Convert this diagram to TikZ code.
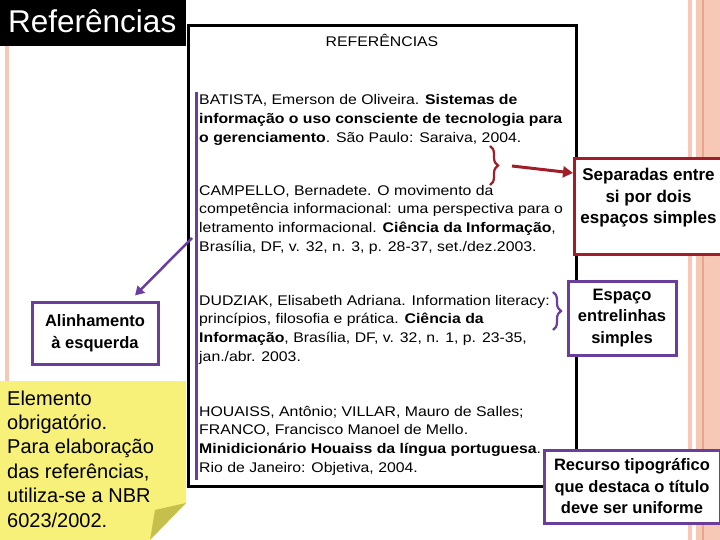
\documentclass[tikz,border=0pt]{standalone}
\usepackage{fontspec}
\setmainfont{Liberation Sans}
\newfontfamily\reffont{Liberation Sans}[FakeStretch=1.13]
\usetikzlibrary{arrows.meta,decorations.pathreplacing}

\definecolor{peach}{HTML}{F8C8B6}
\definecolor{peachdark}{HTML}{E8A68C}
\definecolor{bracered}{HTML}{A11E28}
\definecolor{tippurple}{HTML}{6A3F9C}
\definecolor{noteyellow}{HTML}{F7F17A}
\definecolor{notefold}{HTML}{C5BF4C}

\begin{document}
\begin{tikzpicture}[x=1pt,y=-1pt,
  reftext/.style={anchor=base west, align=left, inner sep=0pt,
    font=\reffont\fontsize{14}{18.9}\selectfont},
  tipbox/.style={draw=tippurple, line width=3pt, fill=white, align=center,
    inner sep=0pt, font=\fontsize{16.5}{21.5}\selectfont\bfseries},
  sepbox/.style={draw=bracered, line width=3pt, fill=white, align=center,
    font=\fontsize{17}{21.5}\selectfont\bfseries},
  bracemark/.style={line width=2.2pt, decorate, decoration={brace, amplitude=8pt}}]
  \useasboundingbox (0,0) rectangle (720,540);

  % side stripes
  \fill[peach] (5,45) rectangle (9,381);
  \fill[peach] (688,0) rectangle (692,540);
  \fill[peach] (696,0) rectangle (720,540);
  \fill[peachdark] (702,0) rectangle (704,540);

  % title
  \fill[black] (0,0) rectangle (186,46);
  \node[anchor=base west, inner sep=0pt, text=white, font=\fontsize{31.5}{36}\selectfont] (title) at (8,33) {Referências};

  % the reference sheet (base = last line)
  \draw[line width=3pt] (188,26) rectangle (576,486);
  \draw[tippurple, line width=3pt] (196,92) -- (196,480);
  \node[anchor=base, inner sep=0pt, font=\reffont\fontsize{14}{17}\selectfont] (head) at (382,47) {REFERÊNCIAS};

  \node[reftext] (batista) at (199,142.8) {BATISTA, Emerson de Oliveira. \textbf{Sistemas de}\\
    \textbf{informação o uso consciente de tecnologia para}\\
    \textbf{o gerenciamento}. São Paulo: Saraiva, 2004.};
  \node[reftext] (campello) at (199,251.7) {CAMPELLO, Bernadete. O movimento da\\
    competência informacional: uma perspectiva para o\\
    letramento informacional. \textbf{Ciência da Informação},\\
    Brasília, DF, v. 32, n. 3, p. 28-37, set./dez.2003.};
  \node[reftext] (dudziak) at (199,361.7) {DUDZIAK, Elisabeth Adriana. Information literacy:\\
    princípios, filosofia e prática. \textbf{Ciência da}\\
    \textbf{Informação}, Brasília, DF, v. 32, n. 1, p. 23-35,\\
    jan./abr. 2003.};
  \node[reftext] (houaiss) at (199,472.7) {HOUAISS, Antônio; VILLAR, Mauro de Salles;\\
    FRANCO, Francisco Manoel de Mello.\\
    \textbf{Minidicionário Houaiss da língua portuguesa}.\\
    Rio de Janeiro: Objetiva, 2004.};

  % two blank lines between references
  \draw[bracered, bracemark] (490,146) -- (490,185);
  \coordinate (redtip) at (500,166);
  \node[sepbox, anchor=north west, minimum width=148pt, inner ysep=10pt, text depth=21pt] (sep) at (573,157) {Separadas entre\\si por dois\\espaços simples};
  \draw[bracered, line width=3pt, -{Triangle[length=10pt,width=11pt]}] ([xshift=12pt]redtip) -- ([yshift=-16pt]sep.north west);

  % single line spacing
  \draw[tippurple, bracemark] (553,292) -- (553,330);
  \node[tipbox, minimum width=108pt, minimum height=74pt] (espaco) at (622,318) {Espaço\\entrelinhas\\simples};

  % left alignment
  \node[tipbox, minimum width=126pt, minimum height=62pt] (alinha) at (95,333) {Alinhamento\\à esquerda};
  \coordinate (linept) at (192,238);
  \draw[tippurple, line width=2.5pt, -{Triangle[length=9pt,width=10pt]}] (linept) -- ([xshift=40pt,yshift=5pt]alinha.north);

  % bold titles
  \node[tipbox, minimum width=176pt, minimum height=73pt] (recurso) at (632,486.5) {Recurso tipográfico\\que destaca o título\\deve ser uniforme};

  % sticky note
  \fill[noteyellow] (0,381) -- (186,381) -- (186,503) -- (150,540) -- (0,540) -- cycle;
  \fill[notefold] (186,503) -- (155,510) -- (150,540) -- cycle;
  \node[anchor=base west, align=left, inner sep=0pt, font=\fontsize{20}{24.4}\selectfont] (note) at (7,527) {Elemento\\obrigatório.\\Para elaboração\\das referências,\\utiliza-se a NBR\\6023/2002.};
\end{tikzpicture}
\end{document}
